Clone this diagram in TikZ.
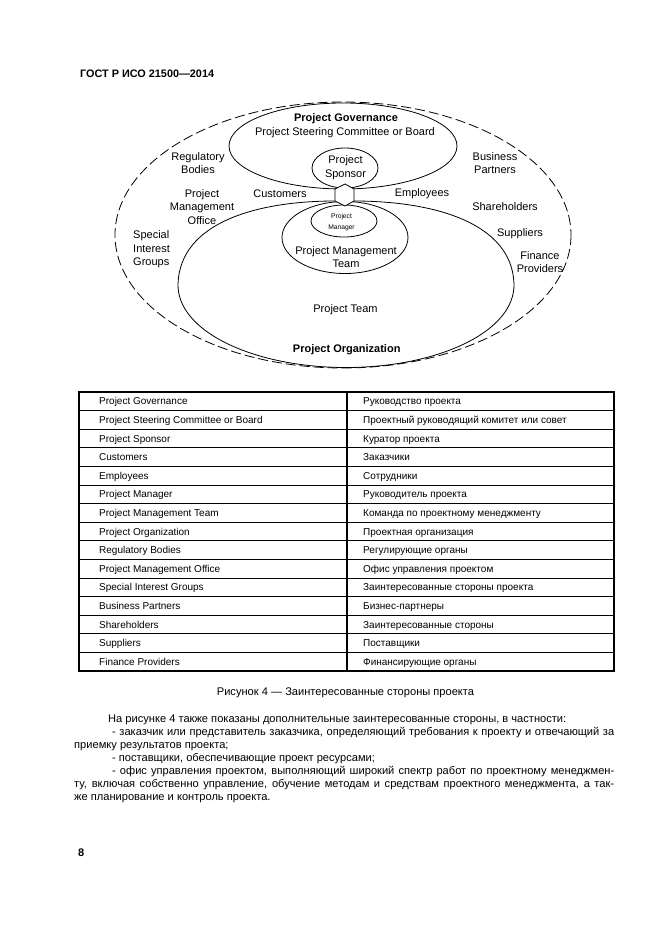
\documentclass[tikz,border=0pt]{standalone}
\usepackage{fontspec}
\setmainfont{Liberation Sans}
\begin{document}
\begin{tikzpicture}[x=1pt,y=-1pt,
  lbl/.style={font=\fontsize{11}{13.5}\selectfont, align=center, inner sep=0pt},
  lblb/.style={font=\fontsize{11}{13.5}\selectfont\bfseries, align=center, inner sep=0pt},
  smalllbl/.style={font=\fontsize{6.7}{11}\selectfont, align=center, inner sep=0pt},
  cell/.style={font=\fontsize{10}{12}\selectfont, anchor=base west, inner sep=0pt},
  para/.style={font=\fontsize{11.1}{13}\selectfont, anchor=base west, inner sep=0pt},
  solidshape/.style={draw, line width=0.8pt},
  dashshape/.style={draw, line width=0.8pt, dash pattern=on 10pt off 4pt},
  thinrule/.style={line width=0.8pt},
  thickrule/.style={line width=1.6pt},
]
\useasboundingbox (0,0) rectangle (661,935);
\fill[white] (0,0) rectangle (661,935);

% header
\node[anchor=base west, font=\fontsize{10.85}{13}\selectfont\bfseries, inner sep=0pt] (hdr) at (80,77.3) {ГОСТ Р ИСО 21500—2014};

% diagram shapes
\draw[dashshape] (343,235) ellipse [x radius=228, y radius=133];
\draw[solidshape] (335,201) .. controls (258,201) and (180,222) .. (178,284)
  .. controls (177,332) and (255,367.5) .. (346,367.5)
  .. controls (437,367.5) and (515,332) .. (514,284)
  .. controls (512,222) and (432,201) .. (354,201);
\draw[solidshape] (345,237.5) ellipse [x radius=63, y radius=36];
\draw[solidshape] (344,221) ellipse [x radius=33, y radius=16];
\draw[solidshape] (343,146) ellipse [x radius=114, y radius=43];
\draw[solidshape] (345,168) ellipse [x radius=33, y radius=20];
\draw[solidshape, fill=white] (335,189) -- (345,184) -- (354,189) -- (354,201) -- (345,206) -- (335,201) -- cycle;

% diagram labels
\node[lblb] (gov) at (346,119) {Project Governance};
\node[lbl] (psc) at (345,133) {Project Steering Committee or Board};
\node[lbl] (reg) at (198,163) {Regulatory\\Bodies};
\node[lbl] (bus) at (495,163) {Business\\Partners};
\node[lbl] (spon) at (345.5,167.5) {Project\\Sponsor};
\node[lbl] (cust) at (280,194) {Customers};
\node[lbl] (emp) at (422,194) {Employees};
\node[lbl] (pmo) at (202,207) {Project\\Management\\Office};
\node[lbl] (share) at (505,207) {Shareholders};
\node[smalllbl] (pm) at (341.5,222.5) {Project\\Manager};
\node[lbl, align=left, anchor=west] (sig) at (133,249.3) {Special\\Interest\\Groups};
\node[lbl] (supp) at (520,233.3) {Suppliers};
\node[lbl] (fin) at (540,262.3) {Finance\\Providers};
\node[lbl] (pmt) at (346,257.2) {Project Management\\Team};
\node[lbl] (pteam) at (345.5,310) {Project Team};
\node[lblb] (porg) at (346.7,350) {Project Organization};

% table
\foreach \i in {1,...,14} {
  \draw[thinrule] (79,{392+18.6*\i}) -- (614,{392+18.6*\i});
}
\draw[thickrule] (79,392) rectangle (614,671);
\draw[thickrule] (347,392) -- (347,671);
\foreach \i/\a/\b in {
  1/Project Governance/Руководство проекта,
  2/Project Steering Committee or Board/Проектный руководящий комитет или совет,
  3/Project Sponsor/Куратор проекта,
  4/Customers/Заказчики,
  5/Employees/Сотрудники,
  6/Project Manager/Руководитель проекта,
  7/Project Management Team/Команда по проектному менеджменту,
  8/Project Organization/Проектная организация,
  9/Regulatory Bodies/Регулирующие органы,
  10/Project Management Office/Офис управления проектом,
  11/Special Interest Groups/Заинтересованные стороны проекта,
  12/Business Partners/Бизнес-партнеры,
  13/Shareholders/Заинтересованные стороны,
  14/Suppliers/Поставщики,
  15/Finance Providers/Финансирующие органы} {
  \node[cell] (l\i) at (99,{392+18.6*\i-5.7}) {\a};
  \node[cell] (r\i) at (363,{392+18.6*\i-5.7}) {\b};
}

% caption and text
\node[para, anchor=base] (cap) at (345.5,695) {Рисунок 4 — Заинтересованные стороны проекта};
\node[para] (p1) at (108,722) {На рисунке 4 также показаны дополнительные заинтересованные стороны, в частности:};
\node[para] (p2) at (112,735.1) {\makebox[502pt][s]{- заказчик или представитель заказчика, определяющий требования к проекту и отвечающий за}};
\node[para] (p3) at (74,748.2) {приемку результатов проекта;};
\node[para] (p4) at (112,761.3) {- поставщики, обеспечивающие проект ресурсами;};
\node[para] (p5) at (112,774.4) {\makebox[502pt][s]{- офис управления проектом, выполняющий широкий спектр работ по проектному менеджмен-}};
\node[para] (p6) at (74,787.5) {\makebox[540pt][s]{ту, включая собственно управление, обучение методам и средствам проектного менеджмента, а так-}};
\node[para] (p7) at (74,800.6) {же планирование и контроль проекта.};

% page number
\node[anchor=base west, font=\fontsize{11}{13}\selectfont\bfseries, inner sep=0pt] (pg) at (78,856.5) {8};
\end{tikzpicture}
\end{document}
